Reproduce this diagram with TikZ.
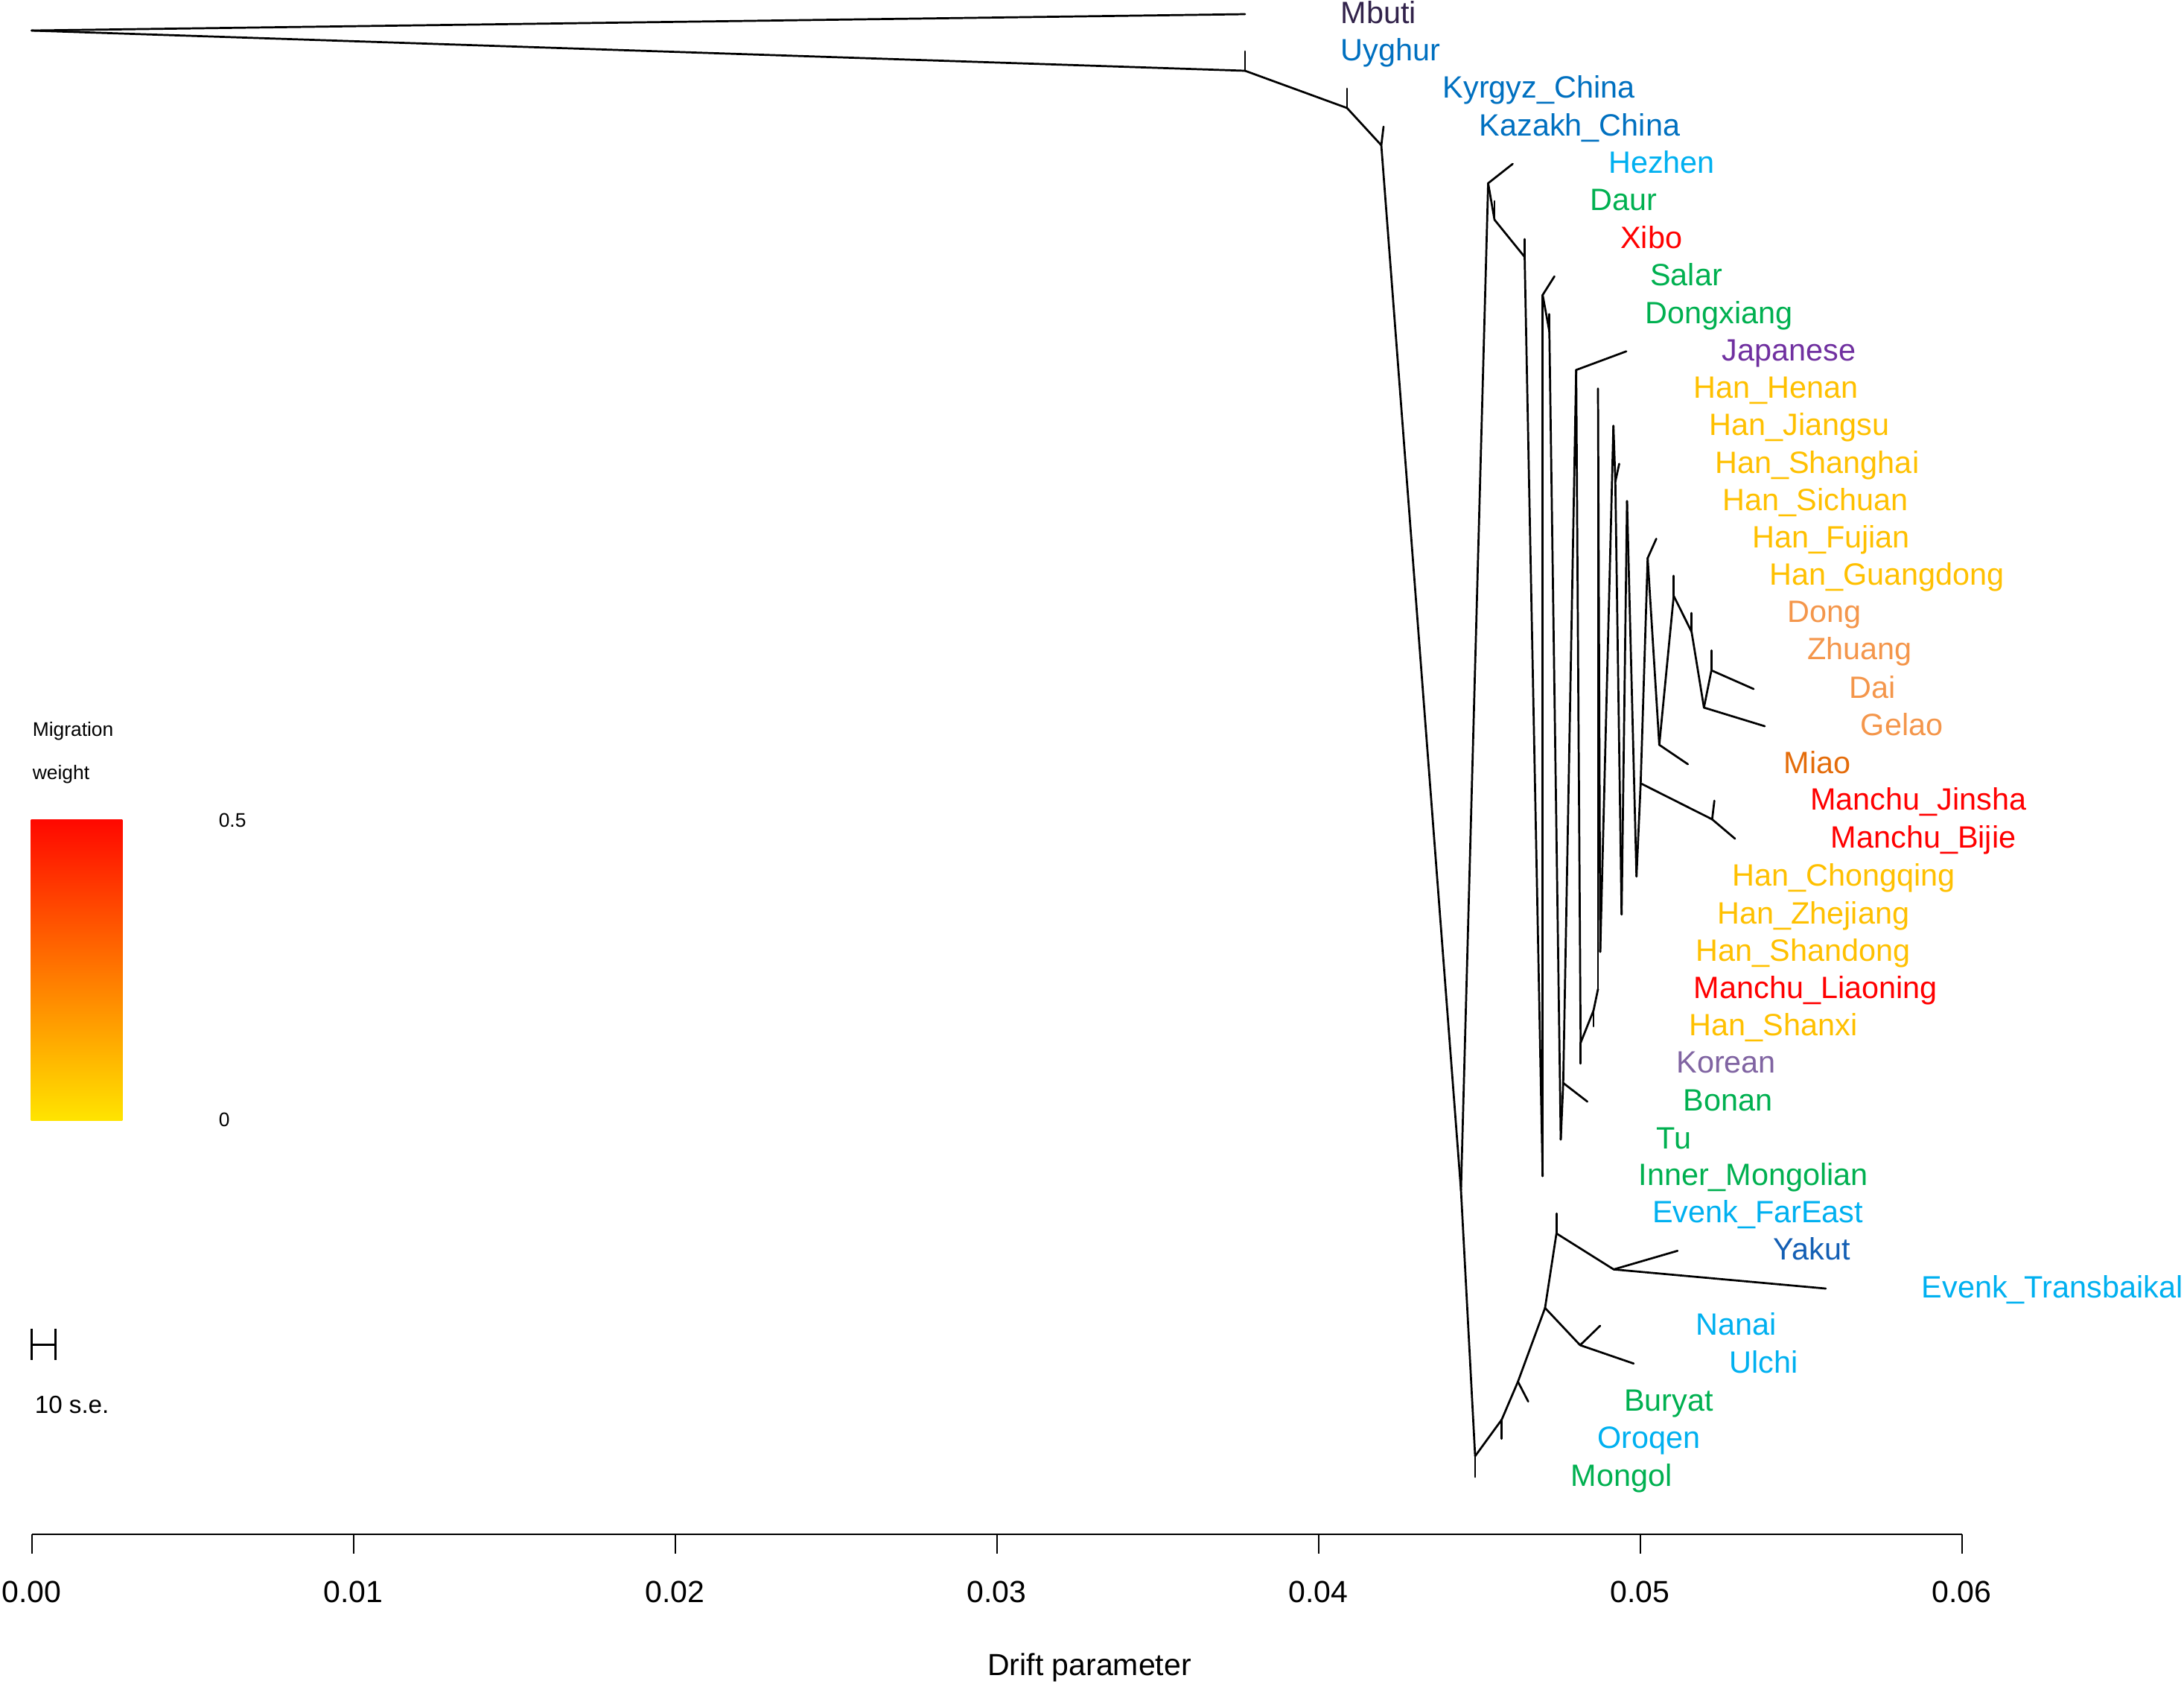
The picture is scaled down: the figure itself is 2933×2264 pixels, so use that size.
\documentclass[tikz,border=0pt]{standalone}
\usepackage{fontspec}
\setmainfont{Liberation Sans}
\definecolor{cMbuti}{RGB}{50,35,75}
\definecolor{cBlue}{RGB}{0,112,192}
\definecolor{cDkBlue}{RGB}{20,95,180}
\definecolor{cLtBlue}{RGB}{0,176,240}
\definecolor{cGreen}{RGB}{0,176,80}
\definecolor{cRed}{RGB}{255,0,0}
\definecolor{cJap}{RGB}{112,48,160}
\definecolor{cHan}{RGB}{255,192,0}
\definecolor{cTai}{RGB}{244,150,75}
\definecolor{cMiao}{RGB}{228,108,10}
\definecolor{cKor}{RGB}{128,100,162}
\definecolor{cTop}{RGB}{255,8,0}
\definecolor{cMid}{RGB}{255,125,0}
\definecolor{cBot}{RGB}{255,228,0}
\newcommand{\mytip}[3]{\node[lab,text=#2] (l#1) at ([xshift=32pt,yshift=-3.1pt]t#1) {#3};}
\begin{document}
\begin{tikzpicture}[x=0.25pt,y=-0.25pt,
  br/.style={line width=0.68pt,line cap=round,line join=round},
  ax/.style={line width=0.5pt},
  sb/.style={line width=0.75pt},
  lab/.style={anchor=base west,inner sep=0pt,font=\fontsize{10.35pt}{12pt}\selectfont},
  axlab/.style={anchor=base,inner sep=0pt,font=\fontsize{10.25pt}{12pt}\selectfont},
  small/.style={anchor=base west,inner sep=0pt,font=\fontsize{6.6pt}{8pt}\selectfont},
  se/.style={anchor=base west,inner sep=0pt,font=\fontsize{8.3pt}{10pt}\selectfont}]
\useasboundingbox (0,0) rectangle (2933,2264);
% ---------- internal nodes ----------
\coordinate (root) at (42.5,41);
\coordinate (nN1) at (1672,95);
\coordinate (nN2) at (1809,145);
\coordinate (nN3) at (1855,195);
\coordinate (nV) at (1962,1598);
\coordinate (nH) at (1998.5,246);
\coordinate (nD) at (2007,295);
\coordinate (nX) at (2047.5,345);
\coordinate (nS) at (2071.7,396);
\coordinate (nDX) at (2080.7,445);
\coordinate (nBN) at (2099.3,1454);
\coordinate (nJN) at (2116.7,496.7);
\coordinate (nKN) at (2122.7,1400);
\coordinate (nHS) at (2140,1356.7);
\coordinate (nSN) at (2169.3,646.7);
\coordinate (nMN) at (2203.3,1051.7);
\coordinate (nFN) at (2212.7,749.3);
\coordinate (nM) at (2228.3,1000);
\coordinate (nGN) at (2247.7,800);
\coordinate (nDN) at (2271.7,848.3);
\coordinate (nGZ) at (2288.3,950);
\coordinate (nZN) at (2298.3,900);
\coordinate (nMJ) at (2299.3,1100);
\coordinate (nB) at (1981,1955);
\coordinate (nO) at (2016.7,1906);
\coordinate (nBu) at (2038.5,1855);
\coordinate (nNU) at (2074.9,1756);
\coordinate (nNN) at (2122,1806);
\coordinate (nEY) at (2090.2,1656);
\coordinate (nYT) at (2167.1,1704.3);
% ---------- tips ----------
\coordinate (tMbuti) at (1672,19);
\coordinate (tUyghur) at (1672,69);
\coordinate (tKyrgyz) at (1809,119);
\coordinate (tKazakh) at (1858,170);
\coordinate (tHezhen) at (2031.5,220);
\coordinate (tDaur) at (2007,270);
\coordinate (tXibo) at (2047.5,321);
\coordinate (tSalar) at (2087.5,371);
\coordinate (tDongxiang) at (2080.7,421.7);
\coordinate (tJapanese) at (2184,471.7);
\coordinate (tHenan) at (2146,521.7);
\coordinate (tJiangsu) at (2166.7,571.7);
\coordinate (tShanghai) at (2174.5,622.7);
\coordinate (tSichuan) at (2185,672.7);
\coordinate (tFujian) at (2224.3,723.3);
\coordinate (tGuangdong) at (2247.7,773);
\coordinate (tDong) at (2271.7,823);
\coordinate (tZhuang) at (2298.3,873.3);
\coordinate (tDai) at (2355,925);
\coordinate (tGelao) at (2370,975);
\coordinate (tMiao) at (2266.7,1026);
\coordinate (tJinsha) at (2302.3,1075);
\coordinate (tBijie) at (2330,1126);
\coordinate (tChongqing) at (2197.7,1176.7);
\coordinate (tZhejiang) at (2177.7,1227.7);
\coordinate (tShandong) at (2149,1278);
\coordinate (tLiaoning) at (2146,1328);
\coordinate (tShanxi) at (2140,1378);
\coordinate (tKorean) at (2122.7,1428);
\coordinate (tBonan) at (2131.7,1479);
\coordinate (tTu) at (2096,1530);
\coordinate (tInner) at (2071.7,1579);
\coordinate (tEvenkFE) at (2090.2,1629.3);
\coordinate (tYakut) at (2252.9,1679.3);
\coordinate (tEvenkTB) at (2451.9,1730);
\coordinate (tNanai) at (2148.8,1780);
\coordinate (tUlchi) at (2193.9,1830.7);
\coordinate (tBuryat) at (2052.3,1881.7);
\coordinate (tOroqen) at (2016.7,1931.7);
\coordinate (tMongol) at (1981,1983);
% ---------- branches ----------
\foreach \a/\b in {root/tMbuti,root/nN1,nN1/tUyghur,nN1/nN2,nN2/tKyrgyz,nN2/nN3,
  nN3/tKazakh,nN3/nV,nV/nH,nH/tHezhen,nH/nD,nD/tDaur,nD/nX,nX/tXibo,nX/tInner,
  tInner/nS,nS/tSalar,nS/nDX,nDX/tDongxiang,nDX/tTu,tTu/nBN,nBN/tBonan,nBN/nJN,
  nJN/tJapanese,nJN/nKN,nKN/tKorean,nKN/nHS,nHS/tShanxi,nHS/tLiaoning,
  tLiaoning/tHenan,tHenan/tShandong,tShandong/tJiangsu,tJiangsu/nSN,nSN/tShanghai,
  nSN/tZhejiang,tZhejiang/tSichuan,tSichuan/tChongqing,tChongqing/nMN,nMN/nFN,
  nFN/tFujian,nFN/nM,nM/tMiao,nM/nGN,nGN/tGuangdong,nGN/nDN,nDN/tDong,nDN/nGZ,
  nGZ/tGelao,nGZ/nZN,nZN/tZhuang,nZN/tDai,nMN/nMJ,nMJ/tJinsha,nMJ/tBijie,
  nV/nB,nB/tMongol,nB/nO,nO/tOroqen,nO/nBu,nBu/tBuryat,nBu/nNU,nNU/nNN,
  nNN/tNanai,nNN/tUlchi,nNU/nEY,nEY/tEvenkFE,nEY/nYT,nYT/tYakut,nYT/tEvenkTB}
  \draw[br] (\a) -- (\b);
% ---------- tip labels ----------
\mytip{Mbuti}{cMbuti}{Mbuti}
\mytip{Uyghur}{cBlue}{Uyghur}
\mytip{Kyrgyz}{cBlue}{Kyrgyz\_China}
\mytip{Kazakh}{cBlue}{Kazakh\_China}
\mytip{Hezhen}{cLtBlue}{Hezhen}
\mytip{Daur}{cGreen}{Daur}
\mytip{Xibo}{cRed}{Xibo}
\mytip{Salar}{cGreen}{Salar}
\mytip{Dongxiang}{cGreen}{Dongxiang}
\mytip{Japanese}{cJap}{Japanese}
\mytip{Henan}{cHan}{Han\_Henan}
\mytip{Jiangsu}{cHan}{Han\_Jiangsu}
\mytip{Shanghai}{cHan}{Han\_Shanghai}
\mytip{Sichuan}{cHan}{Han\_Sichuan}
\mytip{Fujian}{cHan}{Han\_Fujian}
\mytip{Guangdong}{cHan}{Han\_Guangdong}
\mytip{Dong}{cTai}{Dong}
\mytip{Zhuang}{cTai}{Zhuang}
\mytip{Dai}{cTai}{Dai}
\mytip{Gelao}{cTai}{Gelao}
\mytip{Miao}{cMiao}{Miao}
\mytip{Jinsha}{cRed}{Manchu\_Jinsha}
\mytip{Bijie}{cRed}{Manchu\_Bijie}
\mytip{Chongqing}{cHan}{Han\_Chongqing}
\mytip{Zhejiang}{cHan}{Han\_Zhejiang}
\mytip{Shandong}{cHan}{Han\_Shandong}
\mytip{Liaoning}{cRed}{Manchu\_Liaoning}
\mytip{Shanxi}{cHan}{Han\_Shanxi}
\mytip{Korean}{cKor}{Korean}
\mytip{Bonan}{cGreen}{Bonan}
\mytip{Tu}{cGreen}{Tu}
\mytip{Inner}{cGreen}{Inner\_Mongolian}
\mytip{EvenkFE}{cLtBlue}{Evenk\_FarEast}
\mytip{Yakut}{cDkBlue}{Yakut}
\mytip{EvenkTB}{cLtBlue}{Evenk\_Transbaikal}
\mytip{Nanai}{cLtBlue}{Nanai}
\mytip{Ulchi}{cLtBlue}{Ulchi}
\mytip{Buryat}{cGreen}{Buryat}
\mytip{Oroqen}{cLtBlue}{Oroqen}
\mytip{Mongol}{cGreen}{Mongol}
% ---------- axis ----------
\coordinate (ax0) at (42.5,2060);
\coordinate (ax6) at (2634.5,2060);
\draw[ax] (ax0) -- (ax6);
\foreach \i/\t in {0/0.00,1/0.01,2/0.02,3/0.03,4/0.04,5/0.05,6/0.06}{
  \coordinate (tk\i) at (42.5+432*\i,2060);
  \draw[ax] (tk\i) -- ++(0,26);
  \node[axlab] (tl\i) at (42.5+432*\i,2151.5) {\t};
}
\node[axlab] (xlabel) at (1463,2249) {Drift parameter};
% ---------- legend ----------
\node[small] (legA) at (43,988) {Migration};
\node[small] (legB) at (43,1046) {weight};
\coordinate (barA) at (41.7,1100.6);
\coordinate (barB) at (164.3,1504);
\shade[top color=cTop,middle color=cMid,bottom color=cBot] (barA) rectangle (barB);
\node[small] (legHi) at (293,1110.6) {0.5};
\node[small] (legLo) at (293,1512) {0};
\coordinate (sbL1) at (42.7,1784);
\coordinate (sbL2) at (42.7,1826);
\coordinate (sbR1) at (74,1784);
\coordinate (sbR2) at (74,1826);
\coordinate (sbM1) at (42.7,1805);
\coordinate (sbM2) at (74,1805);
\draw[sb] (sbL1) -- (sbL2);
\draw[sb] (sbR1) -- (sbR2);
\draw[sb] (sbM1) -- (sbM2);
\node[se] (selab) at (46,1897.5) {10 s.e.};
\end{tikzpicture}
\end{document}
